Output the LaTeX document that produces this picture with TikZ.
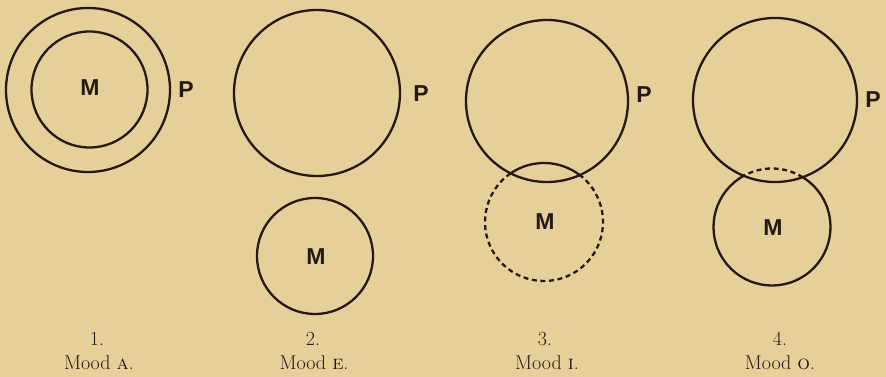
\documentclass[tikz,border=0pt]{standalone}
\usepackage{fontspec}
\newfontfamily\labfont{Liberation Sans}
\definecolor{paper}{RGB}{230,208,153}
\definecolor{ink}{RGB}{38,24,20}
\begin{document}
\begin{tikzpicture}[x=1pt,y=1pt,
  ring/.style={draw=ink,line width=2.3pt},
  dashring/.style={draw=ink,line width=2.3pt,dash pattern=on 5pt off 3.6pt},
  term/.style={text=ink,font=\labfont\bfseries\fontsize{23}{23}\selectfont,inner sep=0pt},
  capnum/.style={text=ink,font=\fontsize{20}{20}\selectfont,inner sep=0pt},
  capmood/.style={text=ink,font=\fontsize{20}{20}\selectfont,inner sep=0pt}]
\fill[paper] (0,0) rectangle (886,377);
\useasboundingbox (0,0) rectangle (886,377);
% centres
\coordinate (c1P) at (88,287);
\coordinate (c1M) at (89.5,287.5);
\coordinate (c2P) at (317,284);
\coordinate (c2M) at (315,121);
\coordinate (c3P) at (547,276);
\coordinate (c3M) at (544,155);
\coordinate (c4P) at (775,277);
\coordinate (c4M) at (772,150);
% 1. Mood A
\draw[ring] (c1P) circle[radius=82];
\draw[ring] (c1M) circle[radius=58];
\node[term] (m1) at (90,289) {M};
\node[term] (p1) at (186,287) {P};
% 2. Mood E
\draw[ring] (c2P) circle[radius=83];
\draw[ring] (c2M) circle[radius=58];
\node[term] (m2) at (316,120) {M};
\node[term] (p2) at (421,283) {P};
% 3. Mood I
\draw[ring] (c3P) circle[radius=81];
\draw[ring] ([shift={(52.7:59)}]c3M) arc[start angle=52.7,end angle=124.5,radius=59];
\draw[dashring] ([shift={(124.5:59)}]c3M) arc[start angle=124.5,end angle=412.7,radius=59];
\node[term] (m3) at (545,155) {M};
\node[term] (p3) at (644,282) {P};
% 4. Mood O
\draw[ring] (c4P) circle[radius=82];
\draw[dashring] ([shift={(58.3:58.5)}]c4M) arc[start angle=58.3,end angle=118.9,radius=58.5];
\draw[ring] ([shift={(118.9:58.5)}]c4M) arc[start angle=118.9,end angle=418.3,radius=58.5];
\node[term] (m4) at (773,149) {M};
\node[term] (p4) at (873,277) {P};
% captions
\node[capnum] (n1) at (97,38) {1.};
\node[capmood] (t1) at (99,14) {Mood \textsc{a}.};
\node[capnum] (n2) at (313,38) {2.};
\node[capmood] (t2) at (314,14) {Mood \textsc{e}.};
\node[capnum] (n3) at (545,38) {3.};
\node[capmood] (t3) at (547,14) {Mood \textsc{i}.};
\node[capnum] (n4) at (780,38) {4.};
\node[capmood] (t4) at (780,14) {Mood \textsc{o}.};
\end{tikzpicture}
\end{document}
